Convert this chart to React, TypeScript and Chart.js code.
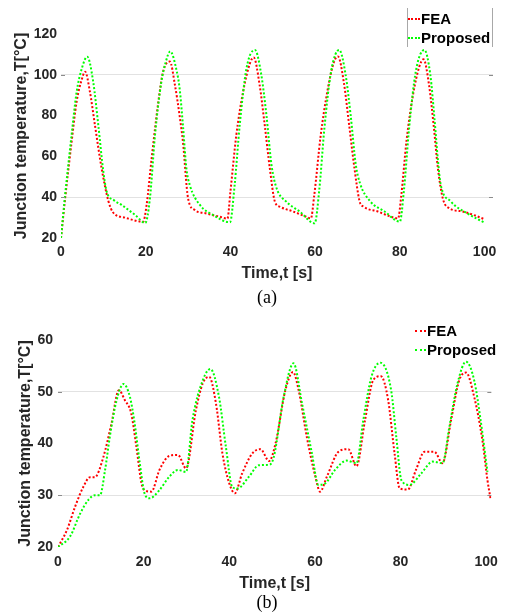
import React, { useEffect, useRef } from 'react';
import { Chart, registerables } from 'chart.js';

Chart.register(...registerables);

// ---------- (a) data ----------
const feaA_t = [0, 0.9, 2.5, 3.7, 4.8, 5.7, 6.8, 8.0, 9.6, 11.2, 12.3, 15.1, 19.4,
  20.2, 21.4, 23.0, 24.1, 25.7, 26.9, 28.0, 28.8, 30.0, 31.6, 34.4, 37.5, 39.3,
  40.0, 41.4, 43.0, 44.6, 45.5, 46.9, 48.1, 49.3, 50.5, 51.7, 54.8, 57.9, 59.0,
  59.8, 61.3, 62.9, 64.4, 65.4, 66.8, 68.0, 69.3, 70.5, 71.5, 74.8, 77.8, 79.6,
  80.3, 81.6, 83.1, 84.6, 85.6, 86.9, 88.0, 89.0, 90.2, 91.7, 94.8, 97.8, 100];
const feaA_T = [20, 38, 67, 87, 97, 101.5, 92, 75.5, 54, 38, 32.5, 30, 28,
  36, 59, 87, 101.5, 106.5, 95, 80, 67, 39.5, 33.7, 32, 30.4, 29.5,
  42.7, 70.5, 91.7, 105.6, 108.5, 95, 75.4, 54.2, 37.8, 35.3, 33, 30.4, 29.6,
  41, 70, 92, 106, 109, 96, 76, 54, 38, 35.3, 33, 30.5, 29.6,
  40, 68, 90, 104, 107.6, 95, 75, 54, 39, 34.6, 33, 31, 29.2];

const propA_t = [0, 0.9, 2.5, 3.7, 4.9, 6.2, 7.6, 8.8, 10.0, 10.8, 12.5, 14.3, 17.5, 19.9,
  21.0, 22.2, 23.7, 24.7, 25.8, 27.3, 28.0, 28.8, 29.6, 30.4, 32.8, 35.9, 39.9,
  41.0, 42.2, 43.8, 45.8, 47.3, 48.5, 49.7, 50.9, 53.2, 56.4, 59.9,
  61.0, 62.2, 63.8, 65.7, 67.2, 68.4, 69.6, 70.6, 73.0, 76.4, 80.0,
  81.0, 82.2, 83.8, 85.8, 87.2, 88.2, 89.0, 89.6, 92.0, 96.0, 100];
const propA_T = [20, 39.6, 70.5, 91.7, 103, 108.9, 96.6, 75.4, 52.5, 42.7, 38.5, 36.2, 31.3, 27.4,
  39.5, 70.5, 96.6, 106, 111.5, 102, 93.4, 75, 54.2, 46, 36.2, 31.3, 27.7,
  46, 75.4, 103.2, 112.2, 99.9, 80.3, 55.8, 44.4, 37.8, 32.9, 27.2,
  44, 74, 102, 112.2, 100, 80, 56, 46.8, 38, 33, 28,
  44, 74, 102, 112.2, 100, 78, 58, 46.8, 38, 32, 27.5];

// ---------- (b) data ----------
const feaB_t = [0, 2.1, 4.0, 5.9, 7.5, 8.6, 10.6, 12.5, 14.2, 15.6, 17.1, 18.3, 19.5, 20.2, 21.8, 23.7, 26.0, 28.0, 29.9,
  32.2, 33.8, 35.3, 36.9, 38.4, 40.0, 41.3, 43.0, 45.4, 47.3, 49.3,
  50.8, 53.1, 54.9, 56.2, 58.1, 60.1, 61.2, 62.8, 65.5, 67.8, 69.7,
  71.7, 73.6, 75.4, 77.1, 78.6, 79.8, 81.7, 83.6, 85.6, 87.9, 89.8,
  91.8, 93.7, 95.3, 97.2, 99.1, 100.3, 101];
const feaB_T = [20, 23.3, 27.8, 31.6, 33.5, 33.5, 37.4, 43.9, 50.3, 48.4, 45.8, 39.4, 32.3, 31, 30.7, 34.9, 37.6, 37.8, 35.2,
  46.4, 51.6, 52.9, 47.7, 38.1, 32.3, 30.4, 34.2, 38.1, 38.9, 36.6,
  40, 50.3, 53.8, 50.3, 41.3, 33.6, 30.7, 33.6, 38.4, 38.9, 35.6,
  44.5, 52.2, 53, 48.4, 38.1, 31.3, 31.1, 34.9, 38.4, 38.4, 36.2,
  44.5, 52.2, 53.7, 49, 40.7, 32.9, 29.4];

const propB_t = [0, 2.8, 5.2, 7.1, 8.6, 9.8, 11.0, 12.1, 13.7, 15.3, 16.8, 17.9, 19.1, 20.2, 21.4, 23.7, 26.0, 28.0, 29.9,
  31.4, 33.8, 35.6, 37.6, 39.2, 40.7, 41.9, 44.6, 46.9, 49.4,
  50.4, 52.7, 55.0, 57.0, 59.3, 60.8, 62.4, 64.7, 67.4, 69.7,
  71.3, 73.2, 75.3, 77.8, 79.0, 80.2, 82.1, 84.8, 87.5, 89.8,
  91.4, 93.3, 95.3, 97.2, 98.7, 100.3];
const propB_T = [20, 22, 26.5, 29.1, 30, 30, 34.9, 41.3, 48.4, 51.5, 49, 43.9, 36.2, 30.4, 29.4, 31, 33.6, 34.9, 34.5,
  44.5, 52.2, 54.4, 49, 39.4, 31.6, 31.3, 33.6, 35.8, 35.9,
  37.4, 49, 55.5, 47.7, 38.1, 32, 32.3, 34.9, 36.7, 36.2,
  44.5, 52.9, 55.6, 50.3, 41.3, 32.9, 32, 34.2, 36.5, 36.2,
  43.2, 51.6, 55.8, 52.2, 44.5, 34.5];

const seriesLabels = ['FEA', 'Proposed'];
const gridA = [40, 100];
const gridB = [30, 50];
const xTitle = 'Time,t [s]';
const yTitle = 'Junction temperature,T[°C]';

const SANS = "'Liberation Sans', Arial, Helvetica, sans-serif";
const AXIS = '#262626';
const RED = '#ff0000';
const GREEN = '#00ff00';

function pts(t: number[], v: number[]) {
  return t.map((x, i) => ({ x, y: v[i] }));
}

const edgeTicks = {
  id: 'edgeTicks',
  afterDraw(chart: any, _args: any, opts: any) {
    const { ctx, chartArea, scales } = chart;
    const vals: number[] = opts.values || [];
    ctx.save();
    ctx.strokeStyle = '#8c8c8c';
    ctx.lineWidth = 1;
    vals.forEach((v) => {
      const py = Math.round(scales.y.getPixelForValue(v)) + 0.5;
      ctx.beginPath();
      ctx.moveTo(chartArea.left, py);
      ctx.lineTo(chartArea.left + 4, py);
      ctx.moveTo(chartArea.right - 4, py);
      ctx.lineTo(chartArea.right, py);
      ctx.stroke();
    });
    ctx.restore();
  },
};

function buildConfig(o: any): any {
  const line = (label: string, data: any, color: string, order: number) => ({
    label,
    data,
    borderColor: color,
    backgroundColor: color,
    borderWidth: 2,
    borderDash: [2, 2],
    pointRadius: 0,
    fill: false,
    cubicInterpolationMode: 'monotone',
    order,
  });
  return {
    type: 'line',
    data: {
      datasets: [
        line(seriesLabels[0], pts(o.feaT, o.feaV), RED, 1),
        line(seriesLabels[1], pts(o.propT, o.propV), GREEN, 0),
      ],
    },
    options: {
      responsive: false,
      maintainAspectRatio: false,
      animation: false,
      events: [],
      layout: { padding: o.padding },
      plugins: {
        legend: { display: false },
        tooltip: { enabled: false },
        edgeTicks: { values: o.gridVals },
      },
      scales: {
        x: {
          type: 'linear',
          min: 0,
          max: o.xMax,
          afterFit: (s: any) => { s.height = o.xHeight; },
          ticks: {
            stepSize: 20,
            includeBounds: false,
            padding: o.xTickPad,
            color: AXIS,
            maxRotation: 0,
            autoSkip: false,
            font: { family: SANS, size: 14, weight: 'bold' },
          },
          grid: { display: false, drawTicks: false },
          border: { display: false },
          title: {
            display: true,
            text: xTitle,
            color: AXIS,
            font: { family: SANS, size: 16, weight: 'bold' },
            padding: { top: 0, bottom: o.xTitlePad },
          },
        },
        y: {
          type: 'linear',
          min: o.yMin,
          max: o.yMax,
          afterFit: (s: any) => { s.width = o.yWidth; },
          ticks: {
            stepSize: o.yStep,
            padding: o.yTickPad,
            color: AXIS,
            font: { family: SANS, size: 14, weight: 'bold' },
          },
          grid: {
            drawTicks: false,
            lineWidth: 1,
            color: (c: any) => (c.tick && o.gridVals.includes(c.tick.value) ? '#e2e2e2' : 'rgba(0,0,0,0)'),
          },
          border: { display: false },
          title: {
            display: true,
            text: yTitle,
            color: AXIS,
            font: { family: SANS, size: 16, weight: 'bold' },
            padding: { top: o.yTitlePad, bottom: 0 },
          },
        },
      },
    },
    plugins: [edgeTicks],
  };
}

function LegendRow({ left, cy, color, text, sample }: any) {
  return (
    <div style={{ position: 'absolute', left, top: cy - 9, height: 18, display: 'flex', alignItems: 'center', whiteSpace: 'nowrap' }}>
      <span style={{ display: 'inline-block', width: sample, height: 0, borderTop: `2px dotted ${color}` }} />
      <span style={{ marginLeft: 1, font: `bold 15px ${SANS}`, lineHeight: '18px', color: '#000' }}>{text}</span>
    </div>
  );
}

export default function App() {
  const refA = useRef<HTMLCanvasElement>(null);
  const refB = useRef<HTMLCanvasElement>(null);

  useEffect(() => {
    const a = new Chart(refA.current as HTMLCanvasElement, buildConfig({
      feaT: feaA_t, feaV: feaA_T, propT: propA_t, propV: propA_T,
      xMax: 102, yMin: 20, yMax: 120, yStep: 20, gridVals: gridA,
      padding: { left: 0, right: 12, top: 34, bottom: 0 },
      yWidth: 61, xHeight: 47, xTickPad: 6, xTitlePad: 2, yTickPad: 4, yTitlePad: 12,
    }));
    const b = new Chart(refB.current as HTMLCanvasElement, buildConfig({
      feaT: feaB_t, feaV: feaB_T, propT: propB_t, propV: propB_T,
      xMax: 101.2, yMin: 20, yMax: 60, yStep: 10, gridVals: gridB,
      padding: { left: 0, right: 11, top: 35, bottom: 0 },
      yWidth: 58, xHeight: 48, xTickPad: 7, xTitlePad: 2, yTickPad: 5, yTitlePad: 16,
    }));
    return () => { a.destroy(); b.destroy(); };
  }, []);

  return (
    <div style={{ position: 'absolute', left: 0, top: 0, width: 505, height: 616, background: '#fff', overflow: 'hidden' }}>
      <canvas ref={refA} width={505} height={285} style={{ position: 'absolute', left: 0, top: 0, width: 505, height: 285 }} />
      <canvas ref={refB} width={505} height={290} style={{ position: 'absolute', left: 0, top: 305, width: 505, height: 290 }} />

      {/* legend (a) */}
      <div style={{ position: 'absolute', left: 407, top: 8, width: 1, height: 39, background: '#a8a8a8' }} />
      <div style={{ position: 'absolute', left: 492, top: 8, width: 1, height: 39, background: '#a8a8a8' }} />
      <LegendRow left={408} cy={19} color={RED} text={seriesLabels[0]} sample={12} />
      <LegendRow left={408} cy={38} color={GREEN} text={seriesLabels[1]} sample={12} />

      {/* legend (b) */}
      <LegendRow left={415} cy={331} color={RED} text={seriesLabels[0]} sample={11} />
      <LegendRow left={415} cy={350} color={GREEN} text={seriesLabels[1]} sample={11} />

      <div style={{ position: 'absolute', left: 237, width: 60, top: 287, textAlign: 'center', font: "18px 'Liberation Serif', 'Times New Roman', serif", lineHeight: '20px', color: '#000' }}>(a)</div>
      <div style={{ position: 'absolute', left: 237, width: 60, top: 592, textAlign: 'center', font: "18px 'Liberation Serif', 'Times New Roman', serif", lineHeight: '20px', color: '#000' }}>(b)</div>
    </div>
  );
}
